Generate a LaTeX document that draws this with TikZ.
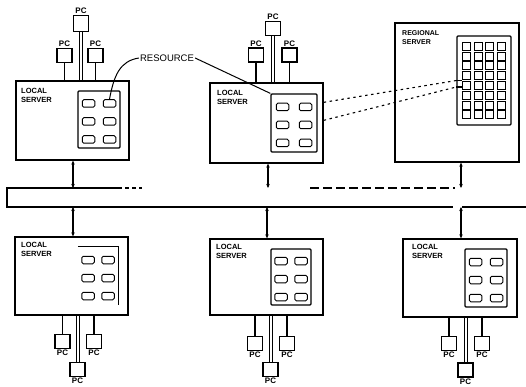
\documentclass[tikz,border=0pt]{standalone}
\usepackage{fontspec}
\setmainfont{Liberation Sans}
\usetikzlibrary{arrows.meta,calc}
\begin{document}
\begin{tikzpicture}[x=1pt,y=-1pt,
  srvbox/.style={draw,line width=1.3pt,inner sep=0pt},
  panel/.style={draw,line width=1.2pt,inner sep=0pt,rounded corners=1pt},
  cell/.style={draw,line width=1pt,inner sep=0pt,minimum width=12.5pt,minimum height=7.5pt,rounded corners=1.5pt},
  rcell/.style={draw,line width=0.9pt,inner sep=0pt,minimum width=8pt,minimum height=8pt},
  pcbox/.style={draw,line width=1.1pt,inner sep=0pt,minimum width=15pt,minimum height=14pt},
  pclabel/.style={inner sep=1pt,font=\fontsize{8}{9}\selectfont\bfseries},
  srvlabel/.style={inner sep=0pt,align=left,font=\fontsize{7.5}{9.5}\selectfont\bfseries},
  wire/.style={line width=1.1pt},
  wirepair/.style={line width=0.8pt},
  arr/.style={line width=1.1pt,{Stealth[length=4pt,width=3.5pt]}-{Stealth[length=4pt,width=3.5pt]}},
  bus/.style={line width=1.3pt},
  dots/.style={line width=1.1pt,dash pattern=on 2.5pt off 3.5pt},
  lead/.style={line width=1pt}]
\useasboundingbox (0,0) rectangle (526,387);

% ---------- servers ----------
\node[srvbox,minimum width=113pt,minimum height=79pt] (S1) at (72.5,120.5) {};
\node[panel,minimum width=42pt,minimum height=57pt] (R1) at (99,119.5) {};
\node[srvlabel,anchor=north west] (L1) at (21,88) {LOCAL\\SERVER};

\node[srvbox,minimum width=113pt,minimum height=80pt] (S2) at (266.5,123) {};
\node[panel,minimum width=46pt,minimum height=58pt] (R2) at (294,123) {};
\node[srvlabel,anchor=north west] (L2) at (217,90) {LOCAL\\SERVER};

\node[srvbox,minimum width=124pt,minimum height=139pt] (S3) at (457,92.5) {};
\node[panel,minimum width=54pt,minimum height=89pt] (R3) at (484,80.5) {};
\node[srvlabel,anchor=north west,font=\fontsize{7}{9}\selectfont\bfseries] (L3) at (402,30) {REGIONAL\\SERVER};

\node[srvbox,minimum width=113pt,minimum height=78pt] (S4) at (71.5,276) {};
\node[inner sep=0pt,minimum width=40pt,minimum height=58pt] (R4) at (98,276) {};
\draw[line width=1.2pt] (R4.north west) -- (R4.north east) -- (R4.south east);
\node[srvlabel,anchor=north west] (L4) at (21,242) {LOCAL\\SERVER};

\node[srvbox,minimum width=113pt,minimum height=76pt] (S5) at (266.5,277) {};
\node[panel,minimum width=40pt,minimum height=56pt] (R5) at (291,277) {};
\node[srvlabel,anchor=north west] (L5) at (216,244) {LOCAL\\SERVER};

\node[srvbox,minimum width=114pt,minimum height=78pt] (S6) at (460,278) {};
\node[panel,minimum width=42pt,minimum height=58pt] (R6) at (486,278) {};
\node[srvlabel,anchor=north west] (L6) at (412,244) {LOCAL\\SERVER};

% ---------- resource cells ----------
\foreach \R/\w in {R1/10.5,R2/11.5,R4/10,R5/10,R6/10.5}{
  \foreach \i/\sx in {1/-1,2/1}{
    \foreach \j/\dy in {1/-16,2/2,3/20}{
      \node[cell] (\R c\i\j) at ($(\R.center)+(\sx*\w,\dy)$) {};
    }
  }
}
\foreach \i/\dx in {1/-17.25,2/-5.75,3/5.75,4/17.25}{
  \foreach \j in {1,...,8}{
    \node[rcell] (R3c\i\j) at ($(R3.center)+(\dx,{(\j-4.5)*9.8})$) {};
  }
}

% ---------- bus ----------
\coordinate (b1t) at (73,188);  \coordinate (b1b) at (73,207);
\coordinate (b2t) at (268,188); \coordinate (b2b) at (267,207);
\coordinate (b3t) at (461,188); \coordinate (b3b) at (461,207);
\draw[bus] (118,188) -- (7,188) -- (7,207) -- (453,207);
\draw[bus] (462,207) -- (526,207);
\draw[bus,dash pattern=on 4pt off 3pt] (118,188) -- (142,188);
\draw[bus,dash pattern=on 9pt off 4pt] (310,188) -- (455,188);

% ---------- bus arrows ----------
\draw[arr] (S1.south -| b1t) -- (b1t);
\draw[arr] (S2.south -| b2t) -- (b2t);
\draw[arr] (S3.south -| b3t) -- (b3t);
\draw[arr] (b1b) -- (S4.north -| b1b);
\draw[arr] (b2b) -- (S5.north -| b2b);
\draw[arr] (b3b) -- (S6.north -| b3b);

% ---------- PCs: top-left ----------
\node[pcbox,minimum height=16pt] (P1t) at (81,23.5) {};
\node[pcbox] (P1l) at (64.5,55.5) {};
\node[pcbox] (P1r) at (95.5,55.5) {};
\node[pclabel,anchor=south] (P1tl) at (P1t.north) {PC};
\node[pclabel,anchor=south] (P1ll) at (P1l.north) {PC};
\node[pclabel,anchor=south] (P1rl) at (P1r.north) {PC};
\draw[wirepair] ($(P1t.south)+(-1.6,0)$) -- ($(P1t.south |- S1.north)+(-1.6,0)$);
\draw[wirepair] ($(P1t.south)+(1.6,0)$) -- ($(P1t.south |- S1.north)+(1.6,0)$);
\draw[wire] (P1l.south) -- (P1l.south |- S1.north);
\draw[wire] (P1r.south) -- (P1r.south |- S1.north);

% ---------- PCs: top-middle ----------
\node[pcbox] (P2t) at (273,28.5) {};
\node[pcbox] (P2l) at (256,55) {};
\node[pcbox] (P2r) at (289.5,55) {};
\node[pclabel,anchor=south] (P2tl) at (P2t.north) {PC};
\node[pclabel,anchor=south] (P2ll) at (P2l.north) {PC};
\node[pclabel,anchor=south] (P2rl) at (P2r.north) {PC};
\draw[wirepair] ($(P2t.south)+(-1.6,0)$) -- ($(P2t.south |- S2.north)+(-1.6,0)$);
\draw[wirepair] ($(P2t.south)+(1.6,0)$) -- ($(P2t.south |- S2.north)+(1.6,0)$);
\draw[wire] (P2l.south) -- (P2l.south |- S2.north);
\draw[wire] (P2r.south) -- (P2r.south |- S2.north);

% ---------- PCs: bottom-left ----------
\node[pcbox] (P4l) at (62.5,341.5) {};
\node[pcbox] (P4r) at (94,341.5) {};
\node[pcbox] (P4b) at (77.5,369.5) {};
\node[pclabel,anchor=north] (P4ll) at (P4l.south) {PC};
\node[pclabel,anchor=north] (P4rl) at (P4r.south) {PC};
\node[pclabel,anchor=north] (P4bl) at (P4b.south) {PC};
\draw[wire] (S4.south -| P4l.north) -- (P4l.north);
\draw[wire] (S4.south -| P4r.north) -- (P4r.north);
\draw[wirepair] ($(S4.south -| P4b.north)+(-1.6,0)$) -- ($(P4b.north)+(-1.6,0)$);
\draw[wirepair] ($(S4.south -| P4b.north)+(1.6,0)$) -- ($(P4b.north)+(1.6,0)$);

% ---------- PCs: bottom-middle ----------
\node[pcbox] (P5l) at (255,343.5) {};
\node[pcbox] (P5r) at (287,343.5) {};
\node[pcbox] (P5b) at (270.5,369.5) {};
\node[pclabel,anchor=north] (P5ll) at (P5l.south) {PC};
\node[pclabel,anchor=north] (P5rl) at (P5r.south) {PC};
\node[pclabel,anchor=north] (P5bl) at (P5b.south) {PC};
\draw[wire] (S5.south -| P5l.north) -- (P5l.north);
\draw[wire] (S5.south -| P5r.north) -- (P5r.north);
\draw[wirepair] ($(S5.south -| P5b.north)+(-1.6,0)$) -- ($(P5b.north)+(-1.6,0)$);
\draw[wirepair] ($(S5.south -| P5b.north)+(1.6,0)$) -- ($(P5b.north)+(1.6,0)$);

% ---------- PCs: bottom-right ----------
\node[pcbox] (P6l) at (449,343.5) {};
\node[pcbox] (P6r) at (482,343.5) {};
\node[pcbox] (P6b) at (465.5,370) {};
\node[pclabel,anchor=north] (P6ll) at (P6l.south) {PC};
\node[pclabel,anchor=north] (P6rl) at (P6r.south) {PC};
\node[pclabel,anchor=north] (P6bl) at (P6b.south) {PC};
\draw[wire] (S6.south -| P6l.north) -- (P6l.north);
\draw[wire] (S6.south -| P6r.north) -- (P6r.north);
\draw[wirepair] ($(S6.south -| P6b.north)+(-1.6,0)$) -- ($(P6b.north)+(-1.6,0)$);
\draw[wirepair] ($(S6.south -| P6b.north)+(1.6,0)$) -- ($(P6b.north)+(1.6,0)$);

% ---------- resource label ----------
\node[inner sep=1pt,font=\fontsize{9.5}{11}\selectfont] (RES) at (167,58) {RESOURCE};
\draw[lead] (RES.west) .. controls (120,61) and (114,75) .. (R1c21.north);
\draw[lead] (RES.east) -- (R2.north west);

% ---------- links to regional server ----------
\coordinate (d1) at ($(S2.north east)+(0,20)$);
\coordinate (d2) at ($(S2.north east)+(0,38)$);
\draw[dots] (d1) -- ($(R3.west)+(0,0)$);
\draw[dots] (d2) -- ($(R3.west)+(0,6.5)$);
\draw[line width=1.1pt] (R3.west) -- ++(6,0);
\draw[line width=1.1pt] ($(R3.west)+(0,6.5)$) -- ++(6,0);
\end{tikzpicture}
\end{document}
